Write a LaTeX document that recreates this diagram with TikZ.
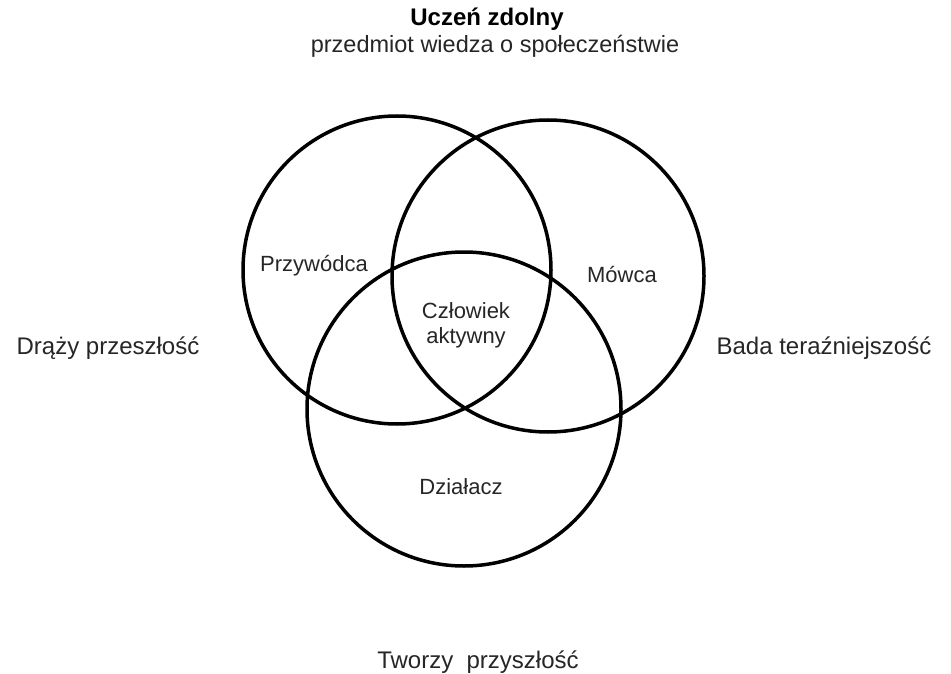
\documentclass[tikz,border=0pt]{standalone}
\usepackage{fontspec}
\setmainfont{Liberation Sans}
\begin{document}
\begin{tikzpicture}[x=1pt,y=-1pt,
  ring/.style={draw=black,line width=3.5pt,circle,inner sep=0pt},
  inlbl/.style={text=black!85,font=\fontsize{22}{25}\selectfont,align=center,inner sep=0pt},
  outlbl/.style={text=black!85,font=\fontsize{24}{27}\selectfont,align=center,inner sep=0pt},
  sublbl/.style={text=black!85,font=\fontsize{23.5}{27}\selectfont,inner sep=0pt},
  ttl/.style={text=black,font=\fontsize{24}{27}\selectfont\bfseries,inner sep=0pt}]
\useasboundingbox[fill=white] (0,0) rectangle (951,674);
\node[ring,minimum size=308pt] (cL) at (397,270) {};
\node[ring,minimum size=312pt] (cR) at (548,276) {};
\node[ring,minimum size=314pt] (cB) at (464,409) {};
\node[ttl] (title) at (487,19) {Uczeń zdolny};
\node[sublbl] (sub) at (495,46) {przedmiot wiedza o społeczeństwie};
\node[inlbl] (prz) at (314,266) {Przywódca};
\node[inlbl] (mow) at (622,275) {Mówca};
\node[inlbl] (czl) at (466,325) {Człowiek\\aktywny};
\node[inlbl] (dzi) at (461,487) {Działacz};
\node[outlbl] (dra) at (108,348) {Drąży przeszłość};
\node[outlbl] (bad) at (824,348) {Bada teraźniejszość};
\node[outlbl] (two) at (478,662) {Tworzy\ \ przyszłość};
\end{tikzpicture}
\end{document}
